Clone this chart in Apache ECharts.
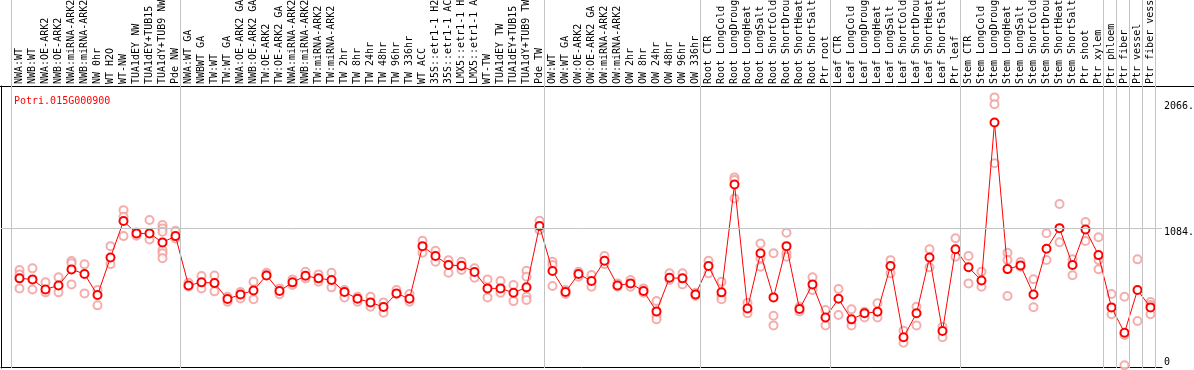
<!DOCTYPE html>
<html>
<head>
<meta charset="utf-8">
<script src="https://cdn.jsdelivr.net/npm/echarts@6/dist/echarts.min.js"></script>
<style>
  html, body { margin: 0; padding: 0; background: #fff; }
  #main { width: 1194px; height: 370px; }
</style>
</head>
<body>
<div id="main"></div>
<script>
var geneName = 'Potri.015G000900';

var categories = [
  'NWA:WT', 'NWB:WT', 'NWA:OE-ARK2', 'NWB:OE-ARK2', 'NWA:miRNA-ARK2', 'NWB:miRNA-ARK2',
  'NW 0hr', 'WT H2O', 'WT-NW', 'TUA1dEY NW', 'TUA1dEY+TUB15 NW', 'TUA1dY+TUB9 NW', 'Pde NW',
  'NWA:WT GA', 'NWBWT GA', 'TW:WT', 'TW:WT GA', 'NWA:OE-ARK2 GA', 'NWB:OE-ARK2 GA',
  'TW:OE-ARK2', 'TW:OE-ARK2 GA', 'NWA:miRNA-ARK2', 'NWB:miRNA-ARK2', 'TW:miRNA-ARK2',
  'TW:miRNA-ARK2', 'TW 2hr', 'TW 8hr', 'TW 24hr', 'TW 48hr', 'TW 96hr', 'TW 336hr',
  'WT ACC', '35S::etr1-1 H2O', '35S::etr1-1 ACC', 'LMX5::etr1-1 H2O', 'LMX5::etr1-1 ACC',
  'WT-TW', 'TUA1dEY TW', 'TUA1dEY+TUB15 TW', 'TUA1dY+TUB9 TW', 'Pde TW',
  'OW:WT', 'OW:WT GA', 'OW:OE-ARK2', 'OW:OE-ARK2 GA', 'OW:miRNA-ARK2', 'OW:miRNA-ARK2',
  'OW 2hr', 'OW 8hr', 'OW 24hr', 'OW 48hr', 'OW 96hr', 'OW 336hr',
  'Root CTR', 'Root LongCold', 'Root LongDrought', 'Root LongHeat', 'Root LongSalt',
  'Root ShortCold', 'Root ShortDrought', 'Root ShortHeat', 'Root ShortSalt', 'Ptr root',
  'Leaf CTR', 'Leaf LongCold', 'Leaf LongDrought', 'Leaf LongHeat', 'Leaf LongSalt',
  'Leaf ShortCold', 'Leaf ShortDrought', 'Leaf ShortHeat', 'Leaf ShortSalt', 'Ptr leaf',
  'Stem CTR', 'Stem LongCold', 'Stem LongDrought', 'Stem LongHeat', 'Stem LongSalt',
  'Stem ShortCold', 'Stem ShortDrought', 'Stem ShortHeat', 'Stem ShortSalt', 'Ptr shoot',
  'Ptr xylem', 'Ptr phloem', 'Ptr fiber', 'Ptr vessel', 'Ptr fiber vessel'
];

// mean expression per sample
var meanValues = [
  690, 682, 604, 635, 760, 724, 560, 853, 1136, 1040, 1040, 970, 1019,
  635, 659, 653, 529, 565, 596, 713, 591, 659, 710, 690, 677, 584, 531, 503, 467, 573, 531,
  941, 864, 794, 788, 739, 612, 612, 578, 620, 1097,
  747, 584, 724, 669, 827, 635, 651, 591, 433, 695, 690, 565,
  786, 581, 1421, 456, 885, 542, 941, 451, 643, 386,
  531, 371, 418, 430, 786, 231, 418, 853, 280, 916,
  776, 674, 1904, 762, 791, 565, 920, 1081, 794, 1071,
  871, 464, 267, 599, 464
];

// replicate values per sample
var replicates = [
  [755, 721, 612], [768, 604], [659, 581], [698, 581], [825, 807, 643], [799, 573],
  [599, 480], [941, 801], [1221, 1170, 1019], [1048, 1022], [1144, 993],
  [1105, 1079, 1053, 910, 885, 846], [1061, 1001],
  [656, 625], [708, 612], [713, 589], [547, 508], [584, 534], [664, 527], [734, 716],
  [612, 566], [682, 638], [742, 690], [721, 664], [734, 620], [599, 542], [547, 508],
  [547, 469], [503, 423], [599, 568], [568, 508],
  [983, 889], [905, 819], [832, 734], [819, 755], [768, 695], [682, 542], [669, 578],
  [638, 513], [749, 703, 547, 521], [1138, 1066],
  [819, 794, 630], [599, 568], [742, 703], [716, 625], [864, 801], [651, 625],
  [677, 625], [612, 578], [513, 397, 371], [729, 677], [729, 643], [578, 553],
  [827, 729], [664, 552, 527], [1476, 1455, 1312], [500, 418], [962, 846, 780],
  [885, 399, 324], [1045, 885, 858], [469, 433], [698, 599], [443, 324],
  [607, 405], [449, 324], [430, 386], [496, 386], [832, 729], [283, 189],
  [469, 324], [916, 776], [314, 231], [1002, 858],
  [864, 651], [742, 625], [2099, 2045, 1586], [890, 833, 553], [817, 781],
  [683, 465], [1041, 833], [1269, 971], [838, 714], [1129, 981],
  [1010, 833, 761], [568, 410], [547, 249, 13], [838, 358], [506, 483, 410]
];

// first sample index of each group (vertical separators)
var groupStarts = [0, 13, 41, 53, 63, 73, 84, 85, 86, 87, 88];

var yTicks = [0, 1084, 2066];

var FONT = 'DejaVu Sans Mono';
var unit = 7.785;            // value per pixel
var yMin = -unit;
var yMax = 281 * unit;

var repPoints = [];
replicates.forEach(function (reps, i) {
  reps.forEach(function (v) { repPoints.push([i, v]); });
});

var noBounds = { containLabel: false, outerBoundsMode: 'none' };

var myChart = echarts.init(document.getElementById('main'));
myChart.setOption({
  animation: false,
  title: {
    text: geneName,
    left: 9,
    top: 91,
    textStyle: { color: '#ff0000', fontFamily: FONT, fontSize: 10, fontWeight: 'normal' }
  },
  grid: [
    Object.assign({ left: 13, right: 37, top: 86, bottom: 2 }, noBounds),   // data
    Object.assign({ left: 1, right: 32, top: 0, bottom: 2 }, noBounds),     // separators
    Object.assign({ left: 1, right: 32, top: 86, bottom: 2 }, noBounds),    // frame
    Object.assign({ left: 0, right: 0, top: 86, bottom: 2 }, noBounds)      // top rule
  ],
  xAxis: [
    {
      gridIndex: 0,
      type: 'category',
      position: 'top',
      data: categories,
      axisLine: { show: false },
      axisTick: { show: false },
      axisLabel: { interval: 0, rotate: 90, margin: 2, fontFamily: FONT, fontSize: 10, color: '#000' }
    },
    { gridIndex: 1, type: 'value', min: -1.42, max: 87.88, show: false },
    {
      gridIndex: 2, type: 'value', min: 0, max: 1,
      axisLine: { show: true, lineStyle: { color: '#000', width: 1 } },
      axisTick: { show: false }, axisLabel: { show: false }, splitLine: { show: false }
    },
    {
      gridIndex: 3, type: 'value', min: 0, max: 1, position: 'top',
      axisLine: { show: true, onZero: false, lineStyle: { color: '#000', width: 1 } },
      axisTick: { show: false }, axisLabel: { show: false }, splitLine: { show: false }
    }
  ],
  yAxis: [
    {
      gridIndex: 0,
      type: 'value',
      min: yMin,
      max: yMax,
      position: 'right',
      axisLine: { show: false },
      axisTick: { show: false },
      splitLine: { show: false },
      axisLabel: {
        customValues: yTicks,
        margin: 7,
        fontFamily: FONT,
        fontSize: 10,
        color: '#000',
        formatter: function (v) {
          return v === 0 ? '{z|0}' : '{t|' + v + '.}';
        },
        rich: {
          t: { fontFamily: FONT, fontSize: 10, color: '#000', padding: [10, 0, 0, 0] },
          z: { fontFamily: FONT, fontSize: 10, color: '#000', padding: [0, 0, 10, 0] }
        }
      }
    },
    { gridIndex: 1, type: 'value', min: yMin, max: yMax, show: false },
    {
      gridIndex: 2, type: 'value', min: yMin, max: yMax,
      axisLine: { show: true, lineStyle: { color: '#000', width: 1 } },
      axisTick: { show: false }, axisLabel: { show: false }, splitLine: { show: false }
    },
    { gridIndex: 3, type: 'value', min: 0, max: 1, show: false }
  ],
  series: [
    {
      type: 'line',
      xAxisIndex: 1,
      yAxisIndex: 1,
      data: [],
      silent: true,
      markLine: {
        silent: true,
        symbol: 'none',
        label: { show: false },
        lineStyle: { color: '#c4c4c4', type: 'solid', width: 1 },
        data: groupStarts.map(function (k) { return { xAxis: k - 0.62 }; })
      }
    },
    {
      type: 'line',
      xAxisIndex: 2,
      yAxisIndex: 2,
      data: [],
      silent: true,
      markLine: {
        silent: true,
        symbol: 'none',
        label: { show: false },
        lineStyle: { color: '#c4c4c4', type: 'solid', width: 1 },
        data: [{ yAxis: yTicks[1] }]
      }
    },
    {
      type: 'line',
      xAxisIndex: 3,
      yAxisIndex: 3,
      data: [],
      silent: true
    },
    {
      name: 'replicates',
      type: 'scatter',
      xAxisIndex: 0,
      yAxisIndex: 0,
      data: repPoints,
      symbol: 'emptyCircle',
      symbolSize: 8,
      itemStyle: { color: '#f09a9a', borderColor: '#f09a9a', borderWidth: 1 },
      z: 2
    },
    {
      name: 'mean',
      type: 'line',
      xAxisIndex: 0,
      yAxisIndex: 0,
      data: meanValues,
      symbol: 'emptyCircle',
      symbolSize: 8,
      lineStyle: { color: '#ff0000', width: 1 },
      itemStyle: { color: '#ff0000', borderColor: '#e00000', borderWidth: 1.2 },
      z: 3
    }
  ]
});
</script>
</body>
</html>
